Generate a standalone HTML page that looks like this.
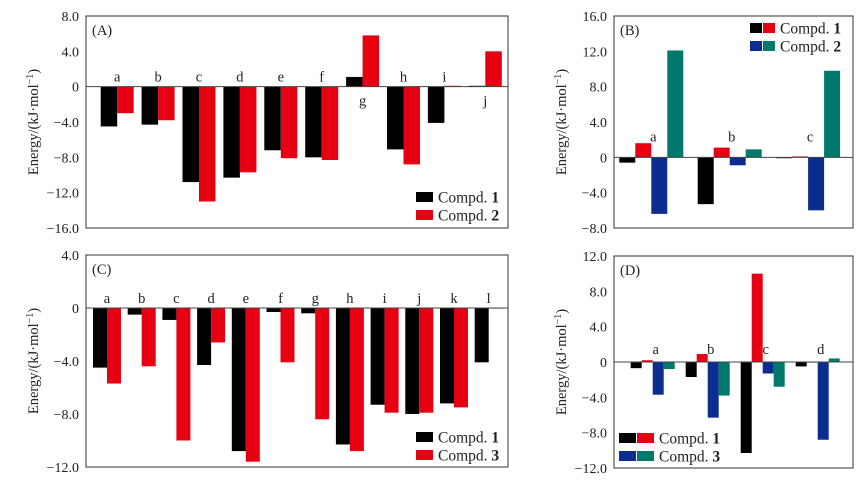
<!DOCTYPE html>
<html><head><meta charset="utf-8"><style>
html,body{margin:0;padding:0;background:#fff;}
svg{display:block;font-family:"Liberation Serif",serif;}
</style></head><body>
<svg id="fig" width="857" height="480" viewBox="0 0 857 480"></svg>
<script>
// Panel A data
const catsA = ['a','b','c','d','e','f','g','h','i','j'];
const a1 = [-4.5,-4.3,-10.8,-10.3,-7.2,-8.0,1.1,-7.1,-4.1,0.1];
const a2 = [-3.0,-3.8,-13.0,-9.7,-8.1,-8.3,5.8,-8.8,0.1,4.0];
const ticksA = [8,4,0,-4,-8,-12,-16];
// Panel B data
const catsB = ['a','b','c'];
const b1 = [-0.6,-5.3,-0.1];
const b2 = [1.6,1.1,0.1];
const b3 = [-6.4,-0.9,-6.0];
const b4 = [12.1,0.9,9.8];
const ticksB = [16,12,8,4,0,-4,-8];
// Panel C data
const catsC = ['a','b','c','d','e','f','g','h','i','j','k','l'];
const c1 = [-4.5,-0.5,-0.9,-4.3,-10.8,-0.3,-0.4,-10.3,-7.3,-8.0,-7.2,-4.1];
const c2 = [-5.7,-4.4,-10.0,-2.6,-11.6,-4.1,-8.4,-10.8,-7.9,-7.9,-7.5,0];
const ticksC = [4,0,-4,-8,-12];
// Panel D data
const catsD = ['a','b','c','d'];
const d1 = [-0.7,-1.7,-10.3,-0.5];
const d2 = [0.2,0.9,10.0,0.0];
const d3 = [-3.7,-6.3,-1.3,-8.8];
const d4 = [-0.8,-3.8,-2.8,0.4];
const ticksD = [12,8,4,0,-4,-8,-12];

const NS='http://www.w3.org/2000/svg';
const svg=document.getElementById('fig');
const COL=['#000000','#e60012','#0a2d8f','#00786c'];
function mk(tag,attrs,parent){const e=document.createElementNS(NS,tag);for(const k in attrs)e.setAttribute(k,attrs[k]);(parent||svg).appendChild(e);return e;}
function fmt(v){return v<0?'\u2212'+Math.abs(v).toFixed(1):(v===0?'0':v.toFixed(1));}

function panel(p){
  const g=mk('g',{});
  
  
  const ymin=p.ticks[p.ticks.length-1], ymax=p.ticks[0];
  const y=v=>p.top+(ymax-v)/(ymax-ymin)*(p.bottom-p.top);
  const fr=mk('rect',{x:p.left,y:p.top,width:p.right-p.left,height:p.bottom-p.top,fill:'none',stroke:'#333','stroke-width':1},g);
  
  
  p.ticks.forEach(t=>{
    const tx=mk('text',{x:p.left-7,y:y(t)+5,'text-anchor':'end','font-size':14,fill:'#222'},g);
    tx.textContent=fmt(t);
    
    
  });
  const yt=mk('text',{x:0,y:0,'text-anchor':'middle','font-size':14.5,fill:'#222',transform:`translate(${p.left-48},${(p.top+p.bottom)/2}) rotate(-90)`},g);
  yt.innerHTML='Energy/(kJ\u00b7mol<tspan dy="-5" font-size="10">\u22121</tspan><tspan dy="5">)</tspan>';
  
  
  p.cats.forEach((c,i)=>{
    const gx=p.start+i*p.pitch;
    p.series.forEach((s,j)=>{
      const v=s[i];
      const x=gx+j*p.bw;
      const y0=y(0), y1=y(v);
      const r=mk('rect',{x:x,y:Math.min(y0,y1),width:p.bw,height:Math.max(Math.abs(y1-y0),0.6),fill:COL[p.colors[j]]},g);
      
      
    });
    const up=p.series.every(s=>s[i]<=0.2)||p.labelUp;
    const lx=p.labelX?p.labelX(gx):gx+p.series.length*p.bw/2;
    const ly=up?y(0)-p.labelGap:y(0)+19;
    const ct=mk('text',{x:lx,y:ly,'text-anchor':'middle','font-size':14.5,fill:'#222'},g);
    ct.textContent=c;
    
    
  });
  const zl=mk('line',{x1:p.left,x2:p.right,y1:y(0),y2:y(0),stroke:'#444','stroke-width':1},g);
  
  
  const lab=mk('text',{x:p.left+6,y:p.top+19,'font-size':14.5,fill:'#222'},g);
  lab.textContent='('+p.id+')';
  
  
  p.legend.forEach((L,k)=>{
    const ly=p.legY+k*18;
    L.cols.forEach((ci,m)=>{
      const sw=mk('rect',{x:p.legX+m*L.sw,y:ly-5,width:L.sw-1,height:10,fill:COL[ci]},g);
      
      
    });
    const lt=mk('text',{x:p.legX+L.cols.length*L.sw+4,y:ly+5.5,'font-size':15.5,fill:'#222'},g);
    lt.innerHTML='Compd. <tspan font-weight="bold">'+L.n+'</tspan>';
    
    
  });
}

panel({id:'A',left:86,right:508,top:16,bottom:228,ticks:ticksA,cats:catsA,series:[a1,a2],colors:[0,1],start:100.7,pitch:40.9,bw:16.5,labelGap:5,
  legX:416,legY:197,legend:[{cols:[0],sw:18,n:'1'},{cols:[1],sw:18,n:'2'}]});
panel({id:'B',left:614,right:853,top:16,bottom:228,ticks:ticksB,cats:catsB,series:[b1,b2,b3,b4],colors:[0,1,2,3],start:619.3,pitch:78.4,bw:16,labelUp:true,labelGap:16,
  labelX:gx=>gx+34,legX:750,legY:28,legend:[{cols:[0,1],sw:13,n:'1'},{cols:[2,3],sw:13,n:'2'}]});
panel({id:'C',left:86,right:508,top:255,bottom:467,ticks:ticksC,cats:catsC,series:[c1,c2],colors:[0,1],start:93,pitch:34.7,bw:14,labelGap:5,
  legX:416,legY:437,legend:[{cols:[0],sw:18,n:'1'},{cols:[1],sw:18,n:'3'}]});
panel({id:'D',left:614,right:853,top:256,bottom:468,ticks:ticksD,cats:catsD,series:[d1,d2,d3,d4],colors:[0,1,2,3],start:630.7,pitch:55,bw:11,labelUp:true,labelGap:8,
  labelX:gx=>gx+25,legX:619,legY:438,legend:[{cols:[0,1],sw:18,n:'1'},{cols:[2,3],sw:18,n:'3'}]});
</script>
</body></html>
